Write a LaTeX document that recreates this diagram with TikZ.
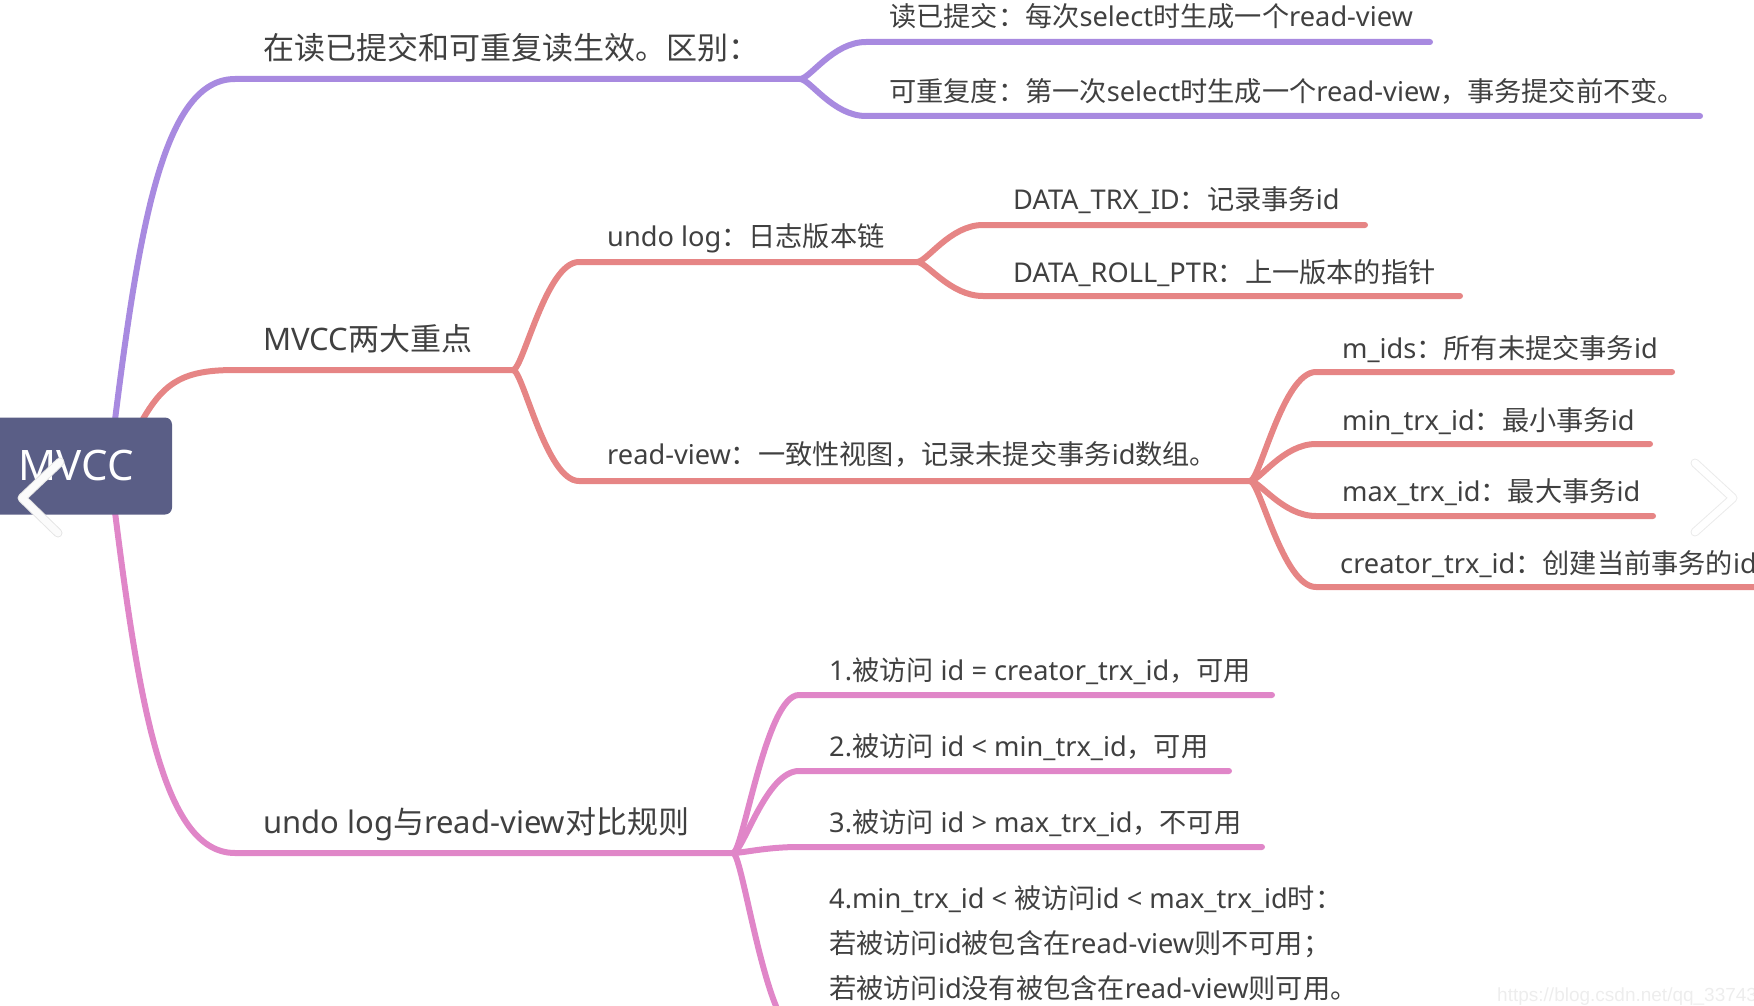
\documentclass[tikz,border=0pt]{standalone}
\usepackage{fontspec}
\usetikzlibrary{calc}
\setmainfont{Noto Sans}
\newfontfamily\cjkfont{Noto Sans CJK SC}
\newfontfamily\latfont{Noto Sans}
\newfontfamily\markfont{Liberation Sans}

% switch to the CJK font for Chinese characters
\XeTeXinterchartokenstate=1
\newXeTeXintercharclass\CJKclass
\newcount\cjkc
\def\setcjkrange#1#2{\cjkc=#1 \loop\XeTeXcharclass\cjkc=\CJKclass
  \ifnum\cjkc<#2 \advance\cjkc by 1 \repeat}
\setcjkrange{"3000}{"303F}
\setcjkrange{"4E00}{"9FFF}
\setcjkrange{"FF00}{"FFEF}
\XeTeXinterchartoks 0 \CJKclass = {\cjkfont}
\XeTeXinterchartoks 4095 \CJKclass = {\cjkfont}
\XeTeXinterchartoks \CJKclass 0 = {\latfont}
\XeTeXinterchartoks \CJKclass 4095 = {\latfont}

\definecolor{rootblue}{HTML}{5A5E86}
\definecolor{brpurple}{HTML}{A88AE0}
\definecolor{brred}{HTML}{E68585}
\definecolor{brpink}{HTML}{E086C8}
\definecolor{txtgray}{HTML}{404040}

\tikzset{
  rootbox/.style={fill=rootblue, text=white, inner sep=0pt, rounded corners=7pt,
    minimum width=192pt, minimum height=97pt, font=\fontsize{42}{50}\selectfont},
  big/.style={anchor=west, inner sep=0pt, text=txtgray,
    font=\fontsize{31}{37}\selectfont, text height=27pt, text depth=4pt},
  small/.style={anchor=west, inner sep=0pt, text=txtgray,
    font=\fontsize{27.2}{45}\selectfont, text height=24pt, text depth=4pt},
  branch/.style={line width=6pt, line cap=round},
  chev/.style={line width=7pt, line cap=round, line join=round},
}

\begin{document}
\begin{tikzpicture}[x=1pt, y=-1pt]
    \useasboundingbox (0,0) rectangle (1754,1006);

    % main branches out of the root
    \coordinate (o1) at (115,420);
    \coordinate (o2) at (143,419);
    \coordinate (o3) at (115,512);
    \coordinate (s1) at (235,79);  \coordinate (k1) at (800,79);
    \coordinate (s2) at (235,370); \coordinate (k2) at (513,370);
    \coordinate (s3) at (235,853); \coordinate (k3) at (733,853);
    \draw[branch, brpurple] (o1) .. controls +(25,-200) and +(-70,0) .. (s1) -- (k1);
    \draw[branch, brred] (o2) .. controls +(22,-38) and +(-50,0) .. (s2) -- (k2);
    \draw[branch, brpink] (o3) .. controls +(25,200) and +(-70,0) .. (s3) -- (k3);

    \node[rootbox] (root) at (76,466) {MVCC};

    % sub-branch ends
    \coordinate (a1) at (866,42);   \coordinate (a1e) at (1430,42);
    \coordinate (a2) at (866,116);  \coordinate (a2e) at (1700,116);
    \coordinate (b1) at (579,262);  \coordinate (k4) at (917,262);
    \coordinate (b2) at (579,481);  \coordinate (k5) at (1250,481);
    \coordinate (c1) at (983,225);  \coordinate (c1e) at (1365,225);
    \coordinate (c2) at (983,296);  \coordinate (c2e) at (1460,296);
    \coordinate (d1) at (1316,372); \coordinate (d1e) at (1672,372);
    \coordinate (d2) at (1316,444); \coordinate (d2e) at (1650,444);
    \coordinate (d3) at (1316,516); \coordinate (d3e) at (1653,516);
    \coordinate (d4) at (1316,587); \coordinate (d4e) at (1780,587);
    \coordinate (e1) at (799,695);  \coordinate (e1e) at (1272,695);
    \coordinate (e2) at (799,771);  \coordinate (e2e) at (1229,771);
    \coordinate (e3) at (799,847);  \coordinate (e3e) at (1262,847);
    \coordinate (e4) at (799,1035); \coordinate (e4e) at (1300,1035);

    \foreach \k/\s/\e/\c in {k1/a1/a1e/brpurple, k1/a2/a2e/brpurple,
        k2/b1/k4/brred, k2/b2/k5/brred, k4/c1/c1e/brred, k4/c2/c2e/brred,
        k5/d1/d1e/brred, k5/d2/d2e/brred, k5/d3/d3e/brred, k5/d4/d4e/brred,
        k3/e1/e1e/brpink, k3/e2/e2e/brpink, k3/e3/e3e/brpink, k3/e4/e4e/brpink} {
        \draw[branch, \c] let \p1=(\k), \p2=(\s) in (\p1)
            .. controls ({\x1+0.15*(\x2-\x1)},\y1) and ({\x1+0.5*(\x2-\x1)},\y2) .. (\p2) -- (\e);
    }

    % topics
    \node[big] (diff) at (263,48) {在读已提交和可重复读生效。区别：};
    \node[small] (rc) at (889,17) {读已提交：每次select时生成一个read-view};
    \node[small] (rr) at (889,92) {可重复度：第一次select时生成一个read-view，事务提交前不变。};
    \node[big] (key) at (263,339) {MVCC两大重点};
    \node[small] (undo) at (607,236) {undo log：日志版本链};
    \node[small] (trx) at (1013,199) {DATA\_TRX\_ID：记录事务id};
    \node[small] (roll) at (1013,272) {DATA\_ROLL\_PTR：上一版本的指针};
    \node[small] (view) at (607,454) {read-view：一致性视图，记录未提交事务id数组。};
    \node[small] (mids) at (1342,348) {m\_ids：所有未提交事务id};
    \node[small] (mint) at (1342,420) {min\_trx\_id：最小事务id};
    \node[small] (maxt) at (1342,491) {max\_trx\_id：最大事务id};
    \node[small] (crea) at (1340,563) {creator\_trx\_id：创建当前事务的id};
    \node[big] (rule) at (263,822) {undo log与read-view对比规则};
    \node[small] (r1) at (829,670) {1.被访问 id = creator\_trx\_id，可用};
    \node[small] (r2) at (829,746) {2.被访问 id < min\_trx\_id，可用};
    \node[small] (r3) at (829,822) {3.被访问 id > max\_trx\_id，不可用};
    \node[small, align=left, text height=, text depth=] (r4) at (829,943)
        {4.min\_trx\_id < 被访问id < max\_trx\_id时：\\
         若被访问id被包含在read-view则不可用；\\
         若被访问id没有被包含在read-view则可用。};

    % viewer overlay
    \node[anchor=west, inner sep=0pt, text=gray!14, font=\markfont\fontsize{19}{22}\selectfont]
        (mark) at (1497,997) {https://blog.csdn.net/qq\_3374357};
    \draw[chev, black!10, line width=9pt] (60,462) -- (22,498) -- (58,533);
    \draw[chev, white, opacity=0.85] (60,462) -- (22,498) -- (58,533);
    \draw[chev, black!8, line width=9pt] (1695,463) -- (1733,498) -- (1695,532);
    \draw[chev, white] (1695,463) -- (1733,498) -- (1695,532);
\end{tikzpicture}
\end{document}
